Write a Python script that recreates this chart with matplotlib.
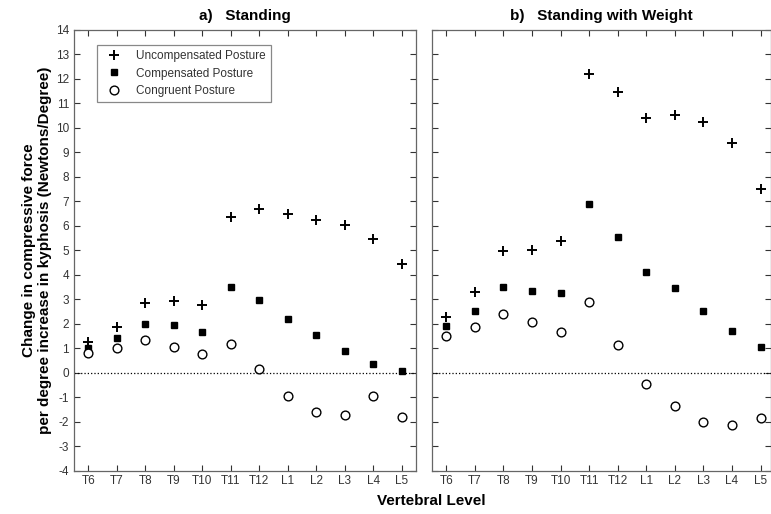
import numpy as np
import matplotlib.pyplot as plt

plt.rcParams['font.family'] = ['Liberation Sans', 'DejaVu Sans']
plt.rcParams['axes.unicode_minus'] = False

levels = ['T6', 'T7', 'T8', 'T9', 'T10', 'T11', 'T12', 'L1', 'L2', 'L3', 'L4', 'L5']

# a) Standing
stand_uncomp = [1.25, 1.85, 2.83, 2.94, 2.76, 6.34, 6.67, 6.50, 6.22, 6.05, 5.47, 4.44]
stand_comp = [1.02, 1.40, 1.97, 1.96, 1.65, 3.48, 2.95, 2.20, 1.55, 0.87, 0.35, 0.05]
stand_cong = [0.80, 1.02, 1.35, 1.03, 0.78, 1.18, 0.15, -0.97, -1.60, -1.73, -0.94, -1.81]

# b) Standing with Weight
weight_uncomp = [2.29, 3.31, 4.98, 4.99, 5.39, 12.20, 11.46, 10.41, 10.53, 10.23, 9.37, 7.51]
weight_comp = [1.89, 2.52, 3.50, 3.32, 3.25, 6.87, 5.55, 4.11, 3.46, 2.53, 1.71, 1.06]
weight_cong = [1.50, 1.88, 2.38, 2.07, 1.66, 2.90, 1.14, -0.48, -1.36, -2.02, -2.13, -1.86]

W, H = 771, 514
fig = plt.figure(figsize=(W / 100, H / 100), dpi=100)
top = 1 - 30 / H
bot = 1 - 470.5 / H
ax1 = fig.add_axes([74 / W, bot, (416 - 74) / W, top - bot])
ax2 = fig.add_axes([432 / W, bot, (770.5 - 432) / W, top - bot])

x = np.arange(len(levels))

def draw(ax, unc, comp, cong, title):
    ax.plot(x, unc, '+', color='black', ms=7, mew=1.4, label='Uncompensated Posture')
    ax.plot(x, comp, 's', color='black', ms=5, label='Compensated Posture')
    ax.plot(x, cong, 'o', mfc='white', mec='black', ms=6.3, mew=1.0, label='Congruent Posture')
    ax.axhline(0, color='black', ls=':', lw=0.9)
    ax.set_ylim(-4, 14)
    ax.set_yticks(range(-4, 15))
    ax.set_xticks(x)
    ax.set_xticklabels(levels)
    ax.tick_params(direction='in', top=True, right=True, labelsize=8.5,
                   colors='#333333', length=4, width=0.8)
    for s in ax.spines.values():
        s.set_color('#666666')
        s.set_linewidth(0.9)
    ax.set_title(title, fontsize=11, fontweight='bold', pad=7)

draw(ax1, stand_uncomp, stand_comp, stand_cong, 'a)   Standing')
draw(ax2, weight_uncomp, weight_comp, weight_cong, 'b)   Standing with Weight')
ax1.set_xlim(-0.5, 11.5)
ax2.set_xlim(-0.5, 11.35)
ax2.tick_params(labelleft=False)

ax1.set_ylabel('Change in compressive force\nper degree increase in kyphosis (Newtons/Degree)',
               fontsize=11, fontweight='bold', labelpad=3)
fig.text(431 / W, 1 - 501 / H, 'Vertebral Level', ha='center', va='center',
         fontsize=11, fontweight='bold')

leg = ax1.legend(loc='upper left', bbox_to_anchor=(0.067, 0.966), borderaxespad=0,
                 fontsize=8.5, fancybox=False, framealpha=1, edgecolor='#888888',
                 handlelength=2.0, handletextpad=0.9, labelspacing=0.45, borderpad=0.45)
leg.get_frame().set_linewidth(0.9)
for t in leg.get_texts():
    t.set_color('#333333')

fig.savefig('out.png', dpi=100)
